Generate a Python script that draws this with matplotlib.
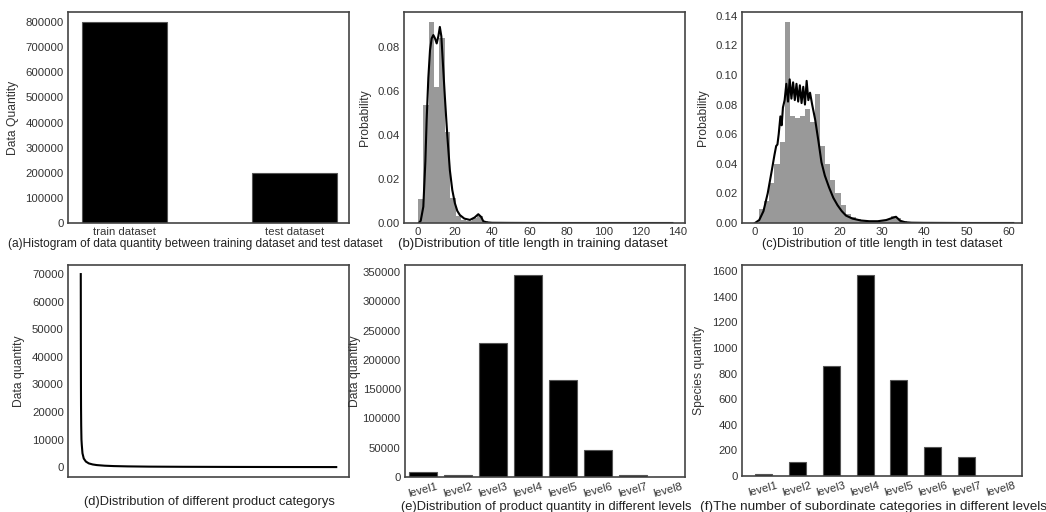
import numpy as np
import matplotlib
matplotlib.use('Agg')
import matplotlib.pyplot as plt

plt.rcParams['font.family'] = ['Liberation Sans', 'DejaVu Sans']
plt.rcParams['font.size'] = 8

# (a) data quantity of the two datasets
dataset_names = ['train dataset', 'test dataset']
dataset_sizes = [800000, 200000]

# (b) title length in training dataset: histogram (bin width 2.9 starting at 0) + kde
train_hist = [0.0108, 0.0536, 0.0915, 0.0617, 0.0840, 0.0415, 0.0112, 0.0030,
              0.0015, 0.0010, 0.0025, 0.0030, 0.0008, 0.0003, 0.0002, 0.0001,
              0.0001, 0.0001, 0.0001, 0.0, 0.0, 0.0, 0.0, 0.0, 0.0, 0.0, 0.0,
              0.0, 0.0, 0.0, 0.0, 0.0, 0.0, 0.0, 0.0, 0.0, 0.0, 0.0, 0.0, 0.0,
              0.0, 0.0, 0.0, 0.0, 0.0, 0.0, 0.0001]
train_kde_x = [0.5, 1.5, 2.9, 4.0, 4.7, 5.6, 6.5, 7.4, 8.3, 9.2, 10.1, 11.0, 11.8,
               12.6, 13.5, 14.5, 15.8, 17.2, 18.5, 19.9, 21.2, 22.6, 25, 28, 30.5,
               32.5, 34, 35.2, 37, 40, 50, 70, 100, 137]
train_kde_y = [0, 0.001, 0.0074, 0.028, 0.047, 0.066, 0.0786, 0.084, 0.0855, 0.084,
               0.0817, 0.085, 0.0892, 0.085, 0.072, 0.0574, 0.040, 0.024, 0.015,
               0.009, 0.0055, 0.0036, 0.002, 0.0014, 0.0025, 0.004, 0.0028, 0.0008,
               0.0003, 0.0001, 0.00005, 0, 0, 0]

# (c) title length in test dataset: histogram (bin width 1.2 starting at 1) + kde
test_hist = [0.0095, 0.0150, 0.0270, 0.0400, 0.0550, 0.1360, 0.0720, 0.0710,
             0.0720, 0.0770, 0.0680, 0.0870, 0.0520, 0.0400, 0.0290, 0.0200,
             0.0120, 0.0060, 0.0040, 0.0025, 0.0020, 0.0015, 0.0015, 0.0015,
             0.0018, 0.0025, 0.0045, 0.0035, 0.0012, 0.0005, 0.0003, 0.0002,
             0.0001, 0.0001, 0.0001, 0.0, 0.0, 0.0, 0.0, 0.0, 0.0, 0.0, 0.0,
             0.0, 0.0, 0.0, 0.0, 0.0, 0.0, 0.0001]
test_kde_x = [0, 1, 2, 3, 4, 4.6, 5.0, 5.3, 5.6, 6.0, 6.3, 6.6, 7.0, 7.4, 7.8, 8.2,
              8.6, 9.0, 9.4, 9.8, 10.2, 10.6, 11.0, 11.4, 11.8, 12.2, 12.6, 13.0,
              13.5, 14.2, 15.0, 15.7, 16.5, 17.5, 18.5, 19.5, 20.5, 21.5, 23, 25,
              27, 29, 31, 32.5, 33.3, 34.3, 35.5, 37, 40, 45, 50, 55, 61]
test_kde_y = [0, 0.002, 0.008, 0.02, 0.036, 0.046, 0.052, 0.053, 0.06, 0.072, 0.066,
              0.078, 0.083, 0.094, 0.082, 0.097, 0.084, 0.095, 0.083, 0.094, 0.082,
              0.093, 0.081, 0.092, 0.080, 0.096, 0.083, 0.088, 0.080, 0.070, 0.055,
              0.041, 0.032, 0.024, 0.017, 0.012, 0.008, 0.005, 0.003, 0.0017,
              0.0012, 0.0012, 0.002, 0.0035, 0.0042, 0.0015, 0.0005, 0.0002,
              0.0001, 0.00005, 0, 0, 0]

# (d) sorted data quantity of product categories
cat_rank = [0, 1, 2, 3, 5, 8, 12, 20, 35, 60, 94, 140, 188, 280, 388, 550, 800,
            1200, 1800, 2400, 3000]
cat_count = [70000, 45000, 30000, 22000, 15000, 10000, 8000, 5000, 3100, 2000,
             1340, 950, 725, 500, 360, 250, 160, 100, 50, 20, 1]

# (e), (f) levels
levels = ['level1', 'level2', 'level3', 'level4', 'level5', 'level6', 'level7', 'level8']
level_products = [8000, 2800, 229000, 345000, 166000, 46000, 4200, 500]
level_species = [15, 108, 860, 1570, 750, 230, 147, 1]

W, H = 1046, 512
fig = plt.figure(figsize=(W / 100, H / 100), dpi=100)


def px_axes(left, top, right, bottom):
    return fig.add_axes([left / W, 1 - bottom / H, (right - left) / W, (bottom - top) / H])


def style(ax, ylabel, pad=5):
    for s in ax.spines.values():
        s.set_color('#444444')
        s.set_linewidth(1.2)
    ax.tick_params(length=0, pad=3, colors='#333333', labelsize=8.2)
    ax.set_ylabel(ylabel, color='#333333', fontsize=8.7, labelpad=pad)


def caption(x, y, text, size):
    fig.text(x / W, 1 - y / H, text, ha='center', va='center', fontsize=size, color='#222222')


# (a)
ax = px_axes(68, 12, 349, 223)
ax.bar(range(2), dataset_sizes, width=0.5, color='black', edgecolor='#555555', linewidth=0.8)
ax.set_xticks(range(2))
ax.set_xticklabels(dataset_names)
ax.set_xlim(-0.33, 1.32)
ax.set_ylim(0, 840000)
ax.set_yticks(range(0, 800001, 100000))
style(ax, 'Data Quantity')
caption(195, 244, '(a)Histogram of data quantity between training dataset and test dataset', 8.6)

# (b)
ax = px_axes(404, 12, 685, 223)
edges_b = 2.9 * np.arange(len(train_hist) + 1)
ax.bar(edges_b[:-1], train_hist, width=2.9, align='edge', color='#999999', linewidth=0)
ax.plot(train_kde_x, train_kde_y, color='black', lw=1.5)
ax.set_xlim(-7.5, 143.8)
ax.set_ylim(0, 0.096)
ax.set_xticks(range(0, 141, 20))
ax.set_yticks([0, 0.02, 0.04, 0.06, 0.08])
ax.yaxis.set_major_formatter(matplotlib.ticker.FormatStrFormatter('%.2f'))
style(ax, 'Probability')
caption(533, 244, '(b)Distribution of title length in training dataset', 9.5)

# (c)
ax = px_axes(742, 12, 1022, 223)
edges_c = 1 + 1.2 * np.arange(len(test_hist) + 1)
ax.bar(edges_c[:-1], test_hist, width=1.2, align='edge', color='#999999', linewidth=0)
ax.plot(test_kde_x, test_kde_y, color='black', lw=1.5)
ax.set_xlim(-3.07, 63.07)
ax.set_ylim(0, 0.1425)
ax.set_xticks(range(0, 61, 10))
ax.set_yticks(np.arange(0, 0.141, 0.02))
ax.yaxis.set_major_formatter(matplotlib.ticker.FormatStrFormatter('%.2f'))
style(ax, 'Probability')
caption(882, 244, '(c)Distribution of title length in test dataset', 9.3)

# (d)
ax = px_axes(68, 265, 349, 477)
ax.plot(cat_rank, cat_count, color='black', lw=1.5)
ax.set_xticks([])
ax.set_ylim(-3600, 73300)
ax.set_yticks(range(0, 70001, 10000))
style(ax, 'Data quantity')
caption(209, 502, '(d)Distribution of different product categorys', 9.3)

# (e)
ax = px_axes(405, 265, 685, 477)
ax.bar(range(8), level_products, width=0.8, color='black', edgecolor='#555555', linewidth=0.8)
ax.set_xticks(range(8))
ax.set_xticklabels(levels, rotation=15)
ax.set_xlim(-0.5, 7.5)
ax.set_ylim(0, 362000)
ax.set_yticks(range(0, 350001, 50000))
style(ax, 'Data quantity', pad=1)
caption(546, 507, '(e)Distribution of product quantity in different levels', 9.3)

# (f)
ax = px_axes(742, 265, 1022, 476)
ax.bar(range(8), level_species, width=0.5, color='black', edgecolor='#555555', linewidth=0.8)
ax.set_xticks(range(8))
ax.set_xticklabels(levels, rotation=15)
ax.set_xlim(-0.625, 7.625)
ax.set_ylim(0, 1648)
ax.set_yticks(range(0, 1601, 200))
style(ax, 'Species quantity')
caption(873, 507, '(f)The number of subordinate categories in different levels', 9.7)

fig.savefig('out.png', dpi=100)
